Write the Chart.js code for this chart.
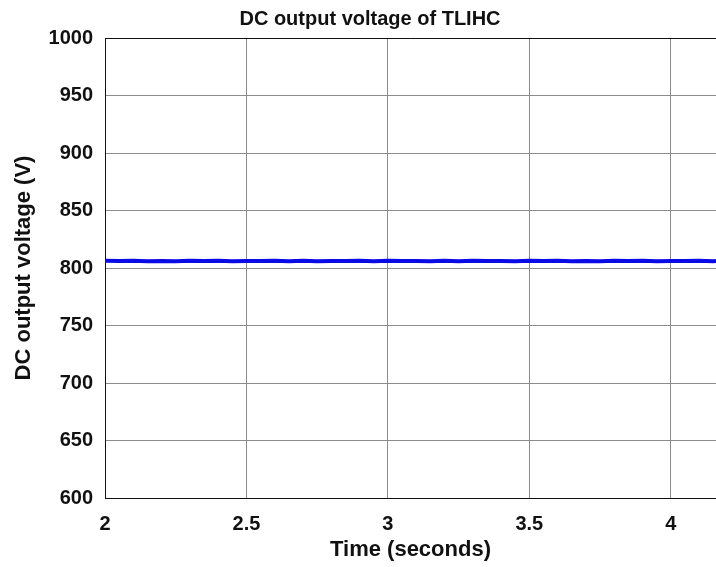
<!DOCTYPE html>
<html>
<head>
<meta charset="utf-8">
<title>DC output voltage of TLIHC</title>
<script src="https://cdn.jsdelivr.net/npm/chart.js@4/dist/chart.umd.min.js"></script>
<style>
  html, body { margin: 0; padding: 0; background: #fff; }
  #wrap { width: 716px; height: 567px; position: relative; }
</style>
</head>
<body>
<div id="wrap"><canvas id="vdcChart"></canvas></div>
<script>
// simulation time (s) and the measured DC link voltage (V)
const timeSec = [2.00, 2.05, 2.10, 2.15, 2.20, 2.25, 2.30, 2.35, 2.40, 2.45,
                 2.50, 2.55, 2.60, 2.65, 2.70, 2.75, 2.80, 2.85, 2.90, 2.95,
                 3.00, 3.05, 3.10, 3.15, 3.20, 3.25, 3.30, 3.35, 3.40, 3.45,
                 3.50, 3.55, 3.60, 3.65, 3.70, 3.75, 3.80, 3.85, 3.90, 3.95,
                 4.00, 4.05, 4.10, 4.15, 4.16];
const vdc = [806.2, 806.0, 806.2, 805.9, 806.1, 805.9, 806.2, 806.0, 806.2, 805.9,
             806.1, 806.0, 806.2, 805.9, 806.2, 805.9, 806.1, 806.0, 806.2, 805.9,
             806.2, 806.0, 806.1, 805.9, 806.2, 805.9, 806.2, 806.0, 806.1, 805.9,
             806.2, 806.0, 806.2, 805.9, 806.1, 805.9, 806.2, 806.0, 806.2, 805.9,
             806.1, 806.0, 806.2, 805.9, 806.1];

const xTickMin = 2, xTickMax = 4.16, xStep = 0.5;
const yTickMin = 600, yTickMax = 1000, yStep = 50;

const plotTitle = "DC output voltage of TLIHC";
const xLabel = "Time (seconds)";
const yLabel = "DC output voltage (V)";

const fontFamily = "'Liberation Sans', Arial, Helvetica, sans-serif";

// matlab style frame: title text and the top border line
const figureFrame = {
    id: "figureFrame",
    afterDraw(chart) {
        const c = chart.ctx;
        const area = chart.chartArea;
        c.save();
        c.strokeStyle = "#111";
        c.lineWidth = 1;
        c.beginPath();
        c.moveTo(area.left, area.top + 0.5);
        c.lineTo(area.right, area.top + 0.5);
        c.stroke();
        c.fillStyle = "#111";
        c.font = "bold 20px " + fontFamily;
        c.textAlign = "center";
        c.textBaseline = "alphabetic";
        c.fillText(plotTitle, 370, 25);
        c.restore();
    },
};

const ctx = document.getElementById("vdcChart");

const chart = new Chart(ctx, {
    type: "line",
    data: {
        datasets: [
            {
                label: "Vdc",
                data: timeSec.map((t, i) => ({ x: t, y: vdc[i] })),
                borderColor: "#0a0ae6",
                borderWidth: 4,
                pointRadius: 0,
                tension: 0,
                fill: false,
            },
        ],
    },
    options: {
        responsive: true,
        maintainAspectRatio: false,
        animation: false,
        layout: {
            padding: { top: 38, right: 0, bottom: 0, left: 0 },
        },
        scales: {
            x: {
                type: "linear",
                min: xTickMin,
                max: xTickMax,
                afterFit(scale) { scale.height = 69; },
                ticks: {
                    stepSize: xStep,
                    includeBounds: false,
                    maxRotation: 0,
                    padding: 14,
                    color: "#111",
                    font: { family: fontFamily, size: 20, weight: "bold" },
                    callback: (value) => String(value),
                },
                grid: {
                    color: "#8c8c8c",
                    lineWidth: 1,
                    drawTicks: false,
                },
                border: { color: "#111", width: 1 },
                title: {
                    display: true,
                    text: xLabel,
                    color: "#111",
                    padding: { top: 0, bottom: 4 },
                    font: { family: fontFamily, size: 22, weight: "bold" },
                },
            },
            y: {
                min: yTickMin,
                max: yTickMax,
                afterFit(scale) { scale.width = 105; },
                ticks: {
                    stepSize: yStep,
                    padding: 12,
                    color: "#111",
                    font: { family: fontFamily, size: 20, weight: "bold" },
                    callback: (value) => String(value),
                },
                grid: {
                    color: "#8c8c8c",
                    lineWidth: 1,
                    drawTicks: false,
                },
                border: { color: "#111", width: 1 },
                title: {
                    display: true,
                    text: yLabel,
                    color: "#111",
                    padding: { top: 11, bottom: 0 },
                    font: { family: fontFamily, size: 22, weight: "bold" },
                },
            },
        },
        plugins: {
            legend: { display: false },
            tooltip: { enabled: false },
        },
    },
    plugins: [figureFrame],
});
</script>
</body>
</html>
